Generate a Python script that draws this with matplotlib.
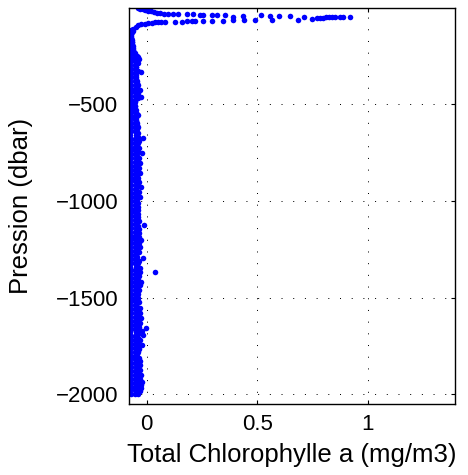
import matplotlib
matplotlib.use("Agg")
import matplotlib.pyplot as plt

plt.rcParams['font.family'] = ['Liberation Sans', 'DejaVu Sans']
plt.rcParams['lines.scale_dashes'] = False

# ---- data ----
# surface profile 1 (upper row): pressure (dbar, positive down) and chla
s1_pres = [5.5, 7.0, 9.5, 13.0, 17.0, 21.0, 25.0, 28.0, 31.0, 33.0, 35.0,
           36.6, 36.6, 36.6, 36.6, 38.6, 41.7, 41.7, 41.7, 38.6, 50.5, 45.0,
           41.7, 45.3, 45.3, 45.3, 50.5, 59.3, 55.7, 54.1, 54.1, 52.0, 53.0,
           52.0, 51.0, 50.5, 51.0, 52.0]
s1_chla = [-0.038, -0.028, -0.017, -0.006, 0.005, 0.018, 0.032, 0.046, 0.062,
           0.078, 0.095, 0.118, 0.143, 0.181, 0.211, 0.241, 0.256, 0.297,
           0.317, 0.354, 0.392, 0.437, 0.516, 0.558, 0.600, 0.648, 0.713,
           0.747, 0.769, 0.783, 0.797, 0.810, 0.825, 0.838, 0.852, 0.875,
           0.890, 0.920]

# surface profile 2 (lower row)
s2_pres = [137, 120, 111, 100, 93, 88, 85, 83, 80, 78, 76, 76, 76, 76, 76,
           73, 73, 73, 73, 71, 71, 68, 68, 68, 68, 65]
s2_chla = [-0.076, -0.068, -0.061, -0.048, -0.038, -0.024, -0.008, 0.007,
           0.023, 0.038, 0.052, 0.067, 0.083, 0.128, 0.158, 0.181, 0.204,
           0.219, 0.256, 0.294, 0.347, 0.392, 0.440, 0.490, 0.568, 0.686]

# deep profiles on a common pressure grid
deep_pres = [120, 140, 160, 180, 200, 220, 240, 260, 280, 300, 320, 340, 360,
             380, 400, 420, 440, 460, 480, 500, 520, 540, 560, 580, 600, 620,
             640, 660, 680, 700, 720, 740, 760, 780, 800, 820, 840, 860, 880,
             900, 920, 940, 960, 980, 1000, 1020, 1040, 1060, 1080, 1100,
             1120, 1140, 1160, 1180, 1200, 1220, 1240, 1260, 1280, 1300, 1320,
             1340, 1360, 1380, 1400, 1420, 1440, 1460, 1480, 1500, 1520, 1540,
             1560, 1580, 1600, 1620, 1640, 1660, 1680, 1700, 1720, 1740, 1760,
             1780, 1800, 1820, 1840, 1860, 1880, 1900, 1920, 1940, 1960, 1980,
             2000]
deep_chla_a = [-0.073, -0.074, -0.072, -0.075, -0.073, -0.071, -0.074, -0.072,
               -0.073, -0.075, -0.071, -0.073, -0.072, -0.074, -0.073, -0.071,
               -0.072, -0.074, -0.073, -0.075, -0.072, -0.071, -0.073, -0.074,
               -0.072, -0.073, -0.071, -0.074, -0.072, -0.073, -0.075, -0.072,
               -0.071, -0.073, -0.074, -0.072, -0.073, -0.071, -0.072, -0.074,
               -0.073, -0.075, -0.072, -0.071, -0.073, -0.074, -0.072, -0.073,
               -0.071, -0.074, -0.072, -0.073, -0.075, -0.072, -0.071, -0.073,
               -0.074, -0.072, -0.073, -0.071, -0.072, -0.074, -0.073, -0.075,
               -0.072, -0.071, -0.073, -0.074, -0.072, -0.073, -0.071, -0.074,
               -0.072, -0.073, -0.075, -0.072, -0.071, -0.073, -0.074, -0.072,
               -0.073, -0.071, -0.072, -0.074, -0.073, -0.075, -0.072, -0.071,
               -0.073, -0.074, -0.072, -0.073, -0.071, -0.074, -0.073]
deep_chla_b = [-0.068, -0.070, -0.069, -0.067, -0.066, -0.064, -0.058, -0.052,
               -0.053, -0.055, -0.051, -0.054, -0.052, -0.053, -0.050, -0.052,
               -0.054, -0.051, -0.055, -0.056, -0.057, -0.055, -0.052, -0.054,
               -0.051, -0.052, -0.053, -0.050, -0.052, -0.054, -0.051, -0.053,
               -0.052, -0.050, -0.053, -0.052, -0.054, -0.051, -0.053, -0.052,
               -0.050, -0.053, -0.052, -0.054, -0.051, -0.053, -0.052, -0.054,
               -0.053, -0.051, -0.052, -0.050, -0.053, -0.052, -0.051, -0.053,
               -0.052, -0.054, -0.051, -0.053, -0.052, -0.050, -0.052, -0.053,
               -0.051, -0.052, -0.054, -0.053, -0.051, -0.052, -0.053, -0.051,
               -0.052, -0.050, -0.052, -0.051, -0.053, -0.052, -0.050, -0.052,
               -0.051, -0.053, -0.052, -0.054, -0.053, -0.051, -0.052, -0.050,
               -0.052, -0.051, -0.053, -0.052, -0.051, -0.053, -0.055]

# a third deep profile, on an offset grid
deep_pres2 = [130, 150, 170, 190, 210, 230, 250, 270, 290, 310,
              330, 350, 370, 390, 410, 430, 450, 470, 490, 510,
              530, 550, 570, 590, 610, 630, 650, 670, 690, 710,
              730, 750, 770, 790, 810, 830, 850, 870, 890, 910,
              930, 950, 970, 990, 1010, 1030, 1050, 1070, 1090, 1110,
              1130, 1150, 1170, 1190, 1210, 1230, 1250, 1270, 1290, 1310,
              1330, 1350, 1370, 1390, 1410, 1430, 1450, 1470, 1490, 1510,
              1530, 1550, 1570, 1590, 1610, 1630, 1650, 1670, 1690, 1710,
              1730, 1750, 1770, 1790, 1810, 1830, 1850, 1870, 1890, 1910,
              1930, 1950, 1970, 1990]
deep_chla_c = [-0.067, -0.069, -0.068, -0.066, -0.064, -0.060, -0.046, -0.042, -0.044, -0.050,
               -0.040, -0.048, -0.048, -0.044, -0.042, -0.040, -0.044, -0.040, -0.052, -0.055,
               -0.052, -0.044, -0.048, -0.047, -0.044, -0.043, -0.044, -0.038, -0.042, -0.044,
               -0.042, -0.040, -0.043, -0.042, -0.044, -0.042, -0.045, -0.043, -0.042, -0.040,
               -0.043, -0.042, -0.044, -0.046, -0.045, -0.046, -0.044, -0.045, -0.043, -0.042,
               -0.040, -0.043, -0.044, -0.042, -0.040, -0.043, -0.042, -0.044, -0.043, -0.040,
               -0.045, -0.043, -0.042, -0.044, -0.040, -0.042, -0.044, -0.045, -0.046, -0.045,
               -0.043, -0.042, -0.041, -0.040, -0.040, -0.041, -0.036, -0.035, -0.038, -0.040,
               -0.040, -0.038, -0.042, -0.046, -0.044, -0.043, -0.041, -0.040, -0.041, -0.040,
               -0.039, -0.040, -0.041, -0.044]

# right-hand edge profile (irregular pressures)
edge_pres = [125, 140, 160, 180, 200, 220, 235, 255, 270, 290, 310, 335, 360,
             380, 402, 428, 445, 464, 485, 510, 530, 557, 583, 600, 619, 650,
             676, 690, 702, 725, 753, 780, 805, 830, 857, 880, 905, 929, 955,
             981, 1010, 1030, 1048, 1070, 1084, 1105, 1125, 1145, 1167, 1185,
             1203, 1220, 1239, 1265, 1296, 1310, 1322, 1347, 1368, 1390, 1420,
             1435, 1460, 1480, 1502, 1525, 1554, 1580, 1606, 1630, 1657, 1675,
             1694, 1720, 1745, 1765, 1781, 1812, 1830, 1849, 1875, 1900, 1920,
             1936, 1950, 1967, 1985, 2000, 1366]
edge_chla = [-0.063, -0.070, -0.070, -0.068, -0.063, -0.062, -0.055, -0.040,
             -0.036, -0.038, -0.048, -0.027, -0.048, -0.045, -0.040, -0.032,
             -0.040, -0.027, -0.052, -0.054, -0.050, -0.040, -0.048, -0.044,
             -0.040, -0.040, -0.018, -0.034, -0.040, -0.036, -0.022, -0.036,
             -0.032, -0.036, -0.032, -0.038, -0.034, -0.025, -0.036, -0.032,
             -0.038, -0.040, -0.040, -0.038, -0.040, -0.036, -0.013, -0.036,
             -0.037, -0.034, -0.025, -0.034, -0.032, -0.036, -0.018, -0.036,
             -0.040, -0.032, -0.029, -0.034, -0.025, -0.032, -0.036, -0.038,
             -0.040, -0.036, -0.032, -0.030, -0.025, -0.030, -0.003, -0.022,
             -0.018, -0.028, -0.022, -0.034, -0.040, -0.037, -0.032, -0.028,
             -0.030, -0.025, -0.028, -0.022, -0.026, -0.025, -0.032, -0.040,
             0.038]

xticks = [0, 0.5, 1]
xticklabels = ['0', '0.5', '1']
yticks = [-2000, -1500, -1000, -500]
yticklabels = ['\u22122000', '\u22121500', '\u22121000', '\u2212500']

# ---- figure ----
fig = plt.figure(figsize=(4.68, 4.75), dpi=100)
ax = fig.add_axes([129 / 468, 1 - 404 / 475, 326 / 468, 396 / 475])

dot = dict(linestyle='none', marker='o', markersize=4.0, markeredgewidth=0,
           color=(0, 0, 1))
ax.plot(deep_chla_a, [-p for p in deep_pres], **dot)
ax.plot(deep_chla_b, [-p for p in deep_pres], **dot)
ax.plot(deep_chla_c, [-p for p in deep_pres2], **dot)
ax.plot(edge_chla, [-p for p in edge_pres], **dot)
ax.plot(s2_chla, [-p for p in s2_pres], **dot)
ax.plot(s1_chla, [-p for p in s1_pres], **dot)

ax.set_xlim(-0.080, 1.395)
ax.set_ylim(-2050, -4)
ax.set_xticks(xticks)
ax.set_xticklabels(xticklabels)
ax.set_yticks(yticks)
ax.set_yticklabels(yticklabels)

ax.grid(True, color='black', linewidth=0.72, linestyle=(0, (0.72, 7.7)))
ax.set_axisbelow(True)
ax.tick_params(direction='in', length=3.2, width=0.8, top=True, right=True,
               labelsize=16, colors='black')
ax.tick_params(axis='x', pad=7)
ax.tick_params(axis='y', pad=7.7)
for s in ax.spines.values():
    s.set_linewidth(1.0)
    s.set_color('black')

ax.set_xlabel('Total Chlorophylle a (mg/m3)', fontsize=18.5)
ax.set_ylabel('Pression (dbar)', fontsize=18.5)
ax.xaxis.set_label_coords(0.5, -0.098)
ax.yaxis.set_label_coords(-0.2935, 0.5)

fig.savefig('out.png', dpi=100)
